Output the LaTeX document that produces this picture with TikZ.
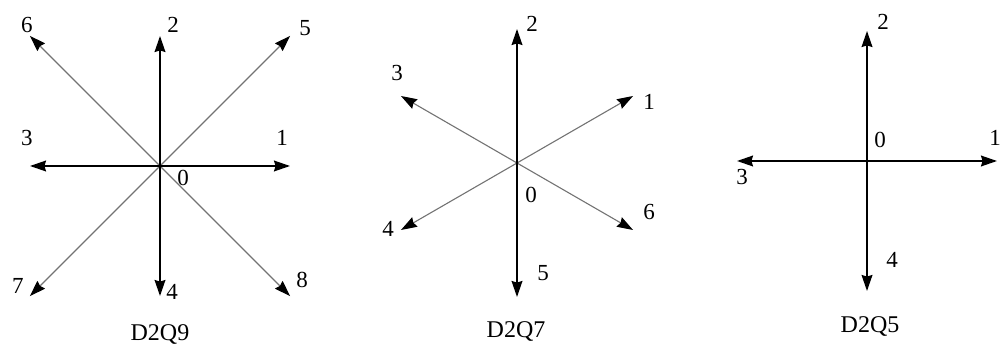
\documentclass[tikz,border=0pt]{standalone}
\usepackage{fontspec}
\setmainfont{Liberation Serif}
\usetikzlibrary{arrows.meta, positioning}

\begin{document}
\begin{tikzpicture}[
    x=0.5pt, y=0.5pt, >={Stealth[length=8pt, width=5.4pt, inset=0.8pt, color=black]},
    axis/.style={->, line width=0.9pt, black},
    diag/.style={->, line width=0.55pt, black!55},
    num/.style={inner sep=0pt, font=\fontsize{11.5}{13}\selectfont},
    title/.style={inner sep=0pt, font=\fontsize{12}{14}\selectfont}
]
    \useasboundingbox (0,0) rectangle (1001,353);

    % D2Q9
    \coordinate (q9c) at (160,187);
    \foreach \i/\a/\r in {1/0/130, 2/90/130, 3/180/130, 4/270/130, 5/45/184, 6/135/184, 7/225/184, 8/315/184}
        \coordinate (q9e\i) at ([shift={(\a:\r)}]q9c);
    \foreach \i in {5,...,8}
        \draw[diag] (q9c) -- (q9e\i);
    \foreach \i in {1,...,4}
        \draw[axis] (q9c) -- (q9e\i);
    \node[num] (q9l1) at (282,215) {1};
    \node[num] (q9l2) at (173,328) {2};
    \node[num] (q9l3) at (27,215) {3};
    \node[num] (q9l4) at (172,61) {4};
    \node[num] (q9l5) at (305,325) {5};
    \node[num] (q9l6) at (27,328) {6};
    \node[num] (q9l7) at (18,67) {7};
    \node[num] (q9l8) at (302,73) {8};
    \node[num] (q9l0) at (183,175) {0};
    \node[title] (q9t) at (160,18) {D2Q9};

    % D2Q7
    \coordinate (q7c) at (517,190);
    \foreach \i/\a in {1/30, 2/90, 3/150, 4/210, 5/270, 6/330}
        \coordinate (q7e\i) at ([shift={(\a:134)}]q7c);
    \foreach \i in {1,3,4,6}
        \draw[diag] (q7c) -- (q7e\i);
    \foreach \i in {2,5}
        \draw[axis] (q7c) -- (q7e\i);
    \node[num] (q7l1) at (649,251) {1};
    \node[num] (q7l2) at (532,329) {2};
    \node[num] (q7l3) at (397,280) {3};
    \node[num] (q7l4) at (388,124) {4};
    \node[num] (q7l5) at (543,80) {5};
    \node[num] (q7l6) at (649,141) {6};
    \node[num] (q7l0) at (531,158) {0};
    \node[title] (q7t) at (516,21) {D2Q7};

    % D2Q5
    \coordinate (q5c) at (867,192);
    \foreach \i/\a in {1/0, 2/90, 3/180, 4/270}
        \coordinate (q5e\i) at ([shift={(\a:130)}]q5c);
    \foreach \i in {1,...,4}
        \draw[axis] (q5c) -- (q5e\i);
    \node[num] (q5l1) at (995,215) {1};
    \node[num] (q5l2) at (883,331) {2};
    \node[num] (q5l3) at (742,176) {3};
    \node[num] (q5l4) at (892,93) {4};
    \node[num] (q5l0) at (880,213) {0};
    \node[title] (q5t) at (870,26) {D2Q5};
\end{tikzpicture}
\end{document}
